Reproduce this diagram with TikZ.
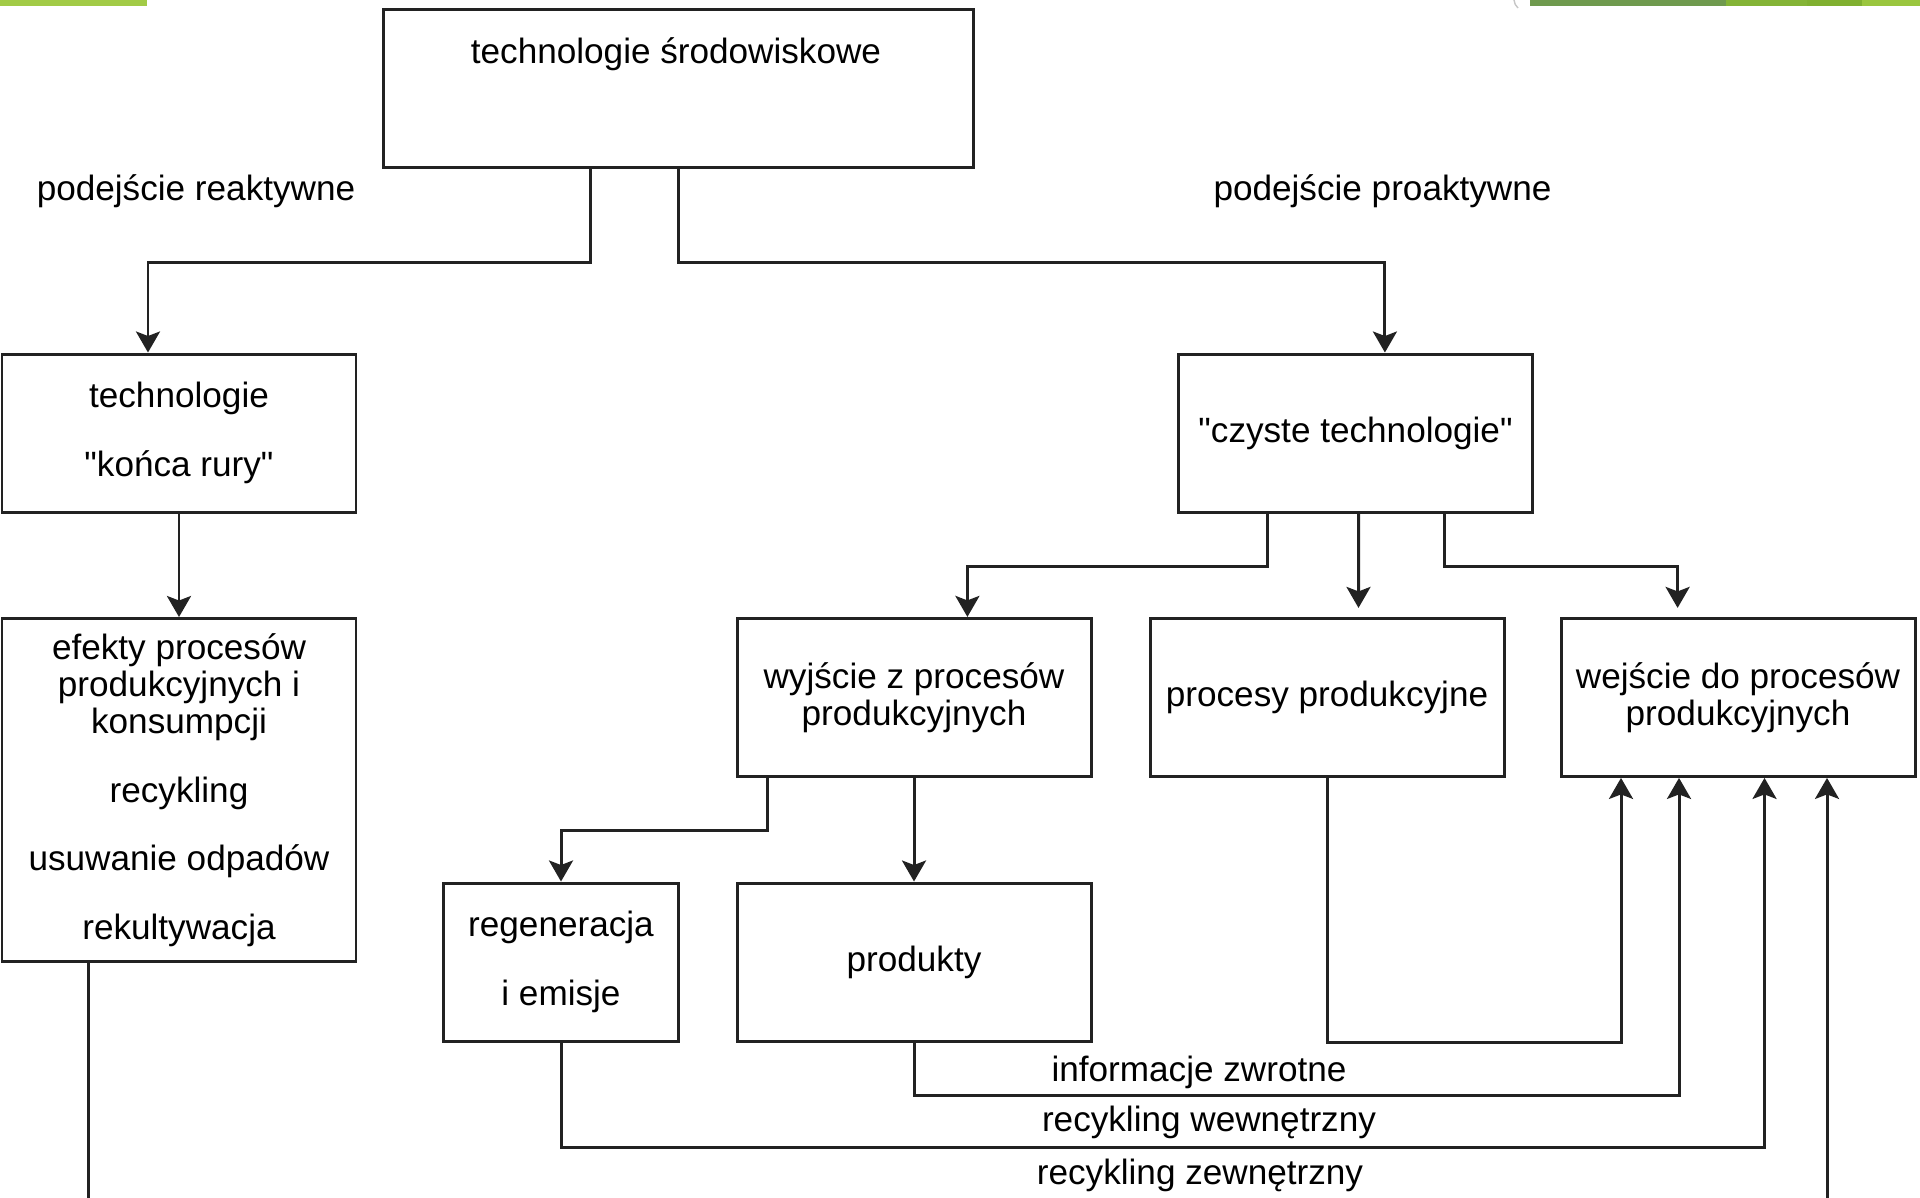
\documentclass[tikz,border=0pt]{standalone}
\usepackage{fontspec}
\setmainfont{Liberation Sans}[Ligatures=TeXOff]
\usetikzlibrary{arrows.meta}

\definecolor{barleft}{HTML}{A2CB46}
\definecolor{bardark}{HTML}{6F9A4E}
\definecolor{barmid}{HTML}{84B436}
\definecolor{barmidb}{HTML}{80B030}
\definecolor{barlite}{HTML}{9AC63E}
\definecolor{lineink}{HTML}{222222}

\tikzset{
  box/.style={draw=lineink, line width=0.85pt, fill=white, minimum width=3.54cm,
    minimum height=1.58cm, inner sep=0pt, align=center,
    font=\fontsize{10}{10.6}\selectfont},
  flow/.style={draw=lineink, line width=0.85pt,
    -{Stealth[length=2.1mm,width=2.4mm,inset=0.45mm]}},
  note/.style={font=\fontsize{10}{10.6}\selectfont, inner sep=0pt, anchor=base},
}

\begin{document}
\begin{tikzpicture}
  \useasboundingbox (0,0) rectangle (19.2,-11.97);

  % Slide bars at the top edge
  \fill[barleft] (0,0) rectangle (1.47,-0.06);
  \fill[bardark] (15.30,0) rectangle (17.26,-0.06);
  \fill[barmid] (17.26,0) rectangle (18.07,-0.06);
  \fill[barmidb] (18.07,0) rectangle (18.62,-0.06);
  \fill[barlite] (18.62,0) rectangle (19.2,-0.06);
  \draw[gray!45,line width=0.4pt] (15.14,0) to[bend right=20] (15.18,-0.08);

  % Top level
  \node[box, minimum width=5.90cm] (env) at (6.784,-0.888) {};
  \node[note] (envtxt) at (6.76,-0.63) {technologie środowiskowe};
  \node[note] (reakt) at (1.96,-2.0) {podejście reaktywne};
  \node[note] (proakt) at (13.825,-2.0) {podejście proaktywne};

  % Reactive branch
  \node[box] (eop) at (1.79,-4.33) {technologie\\[8.9pt]"końca rury"};
  \node[box, minimum height=3.43cm] (eff) at (1.79,-7.90)
    {efekty procesów\\produkcyjnych i\\konsumpcji\\[8.9pt]recykling\\[8.9pt]usuwanie odpadów\\[8.9pt]rekultywacja};

  % Proactive branch
  \node[box] (clean) at (13.555,-4.33) {"czyste technologie"};
  \node[box] (out) at (9.14,-6.974) {wyjście z procesów\\produkcyjnych};
  \node[box] (proc) at (13.27,-6.974) {procesy produkcyjne};
  \node[box] (inp) at (17.38,-6.974) {wejście do procesów\\produkcyjnych};
  \node[box, minimum width=2.35cm] (regen) at (5.61,-9.62) {regeneracja\\[8.9pt]i emisje};
  \node[box] (prod) at (9.14,-9.62) {produkty};

  % Feedback labels
  \node[note] (info) at (11.99,-10.81) {informacje zwrotne};
  \node[note] (recin) at (12.09,-11.31) {recykling wewnętrzny};
  \node[note] (recout) at (12.0,-11.84) {recykling zewnętrzny};

  % Connectors from the top box
  \draw[flow] ([xshift=-0.88cm]env.south) -- ++(0,-0.93) -| ([xshift=-0.31cm]eop.north);
  \draw[flow] (env.south) -- ++(0,-0.93) -| ([xshift=0.294cm]clean.north);
  \draw[flow] (eop.south) -- (eff.north);

  % Connectors from "czyste technologie"
  \draw[flow] ([xshift=-0.881cm]clean.south) -- ++(0,-0.527) -| ([xshift=0.534cm]out.north);
  \draw[flow, shorten >=0.9mm] ([xshift=0.03cm]clean.south) -- ([xshift=0.315cm]proc.north);
  \draw[flow, shorten >=0.9mm] ([xshift=0.885cm]clean.south) -- ++(0,-0.527) -| ([xshift=-0.604cm]inp.north);

  % Outputs of the processes
  \draw[flow] ([xshift=-1.462cm]out.south) -- ++(0,-0.527) -| (regen.north);
  \draw[flow] (out.south) -- (prod.north);

  % Loops back into the inputs
  \draw[flow] (proc.south) -- ++(0,-2.645) -| ([xshift=-1.17cm]inp.south);
  \draw[flow] (prod.south) -- ++(0,-0.527) -| ([xshift=-0.59cm]inp.south);
  \draw[flow] (regen.south) -- ++(0,-1.053) -| ([xshift=0.265cm]inp.south);
  \draw[flow] ([xshift=-0.908cm]eff.south) -- ++(0,-2.41) -| ([xshift=0.89cm]inp.south);
\end{tikzpicture}
\end{document}
